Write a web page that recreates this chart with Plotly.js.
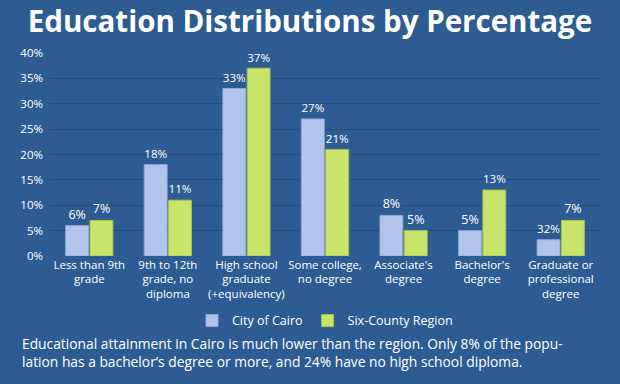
<!DOCTYPE html>
<html><head><meta charset="utf-8">
<script src="https://cdn.plot.ly/plotly-3.0.1.min.js"></script>
<style>html,body{margin:0;padding:0;background:#2d5c93;}</style>
</head><body><div id="chart" style="width:620px;height:384px;"></div>
<script>
const categories = ["Less than 9th<br>grade","9th to 12th<br>grade, no<br>diploma","High school<br>graduate<br>(+equivalency)","Some college,<br>no degree","Associate's<br>degree","Bachelor's<br>degree","Graduate or<br>professional<br>degree"];
const cairoValues = [6, 18, 33, 27, 8, 5, 3.2];
const cairoLabels = ["6%","18%","33%","27%","8%","5%","32%"];
const regionValues = [7, 11, 37, 21, 5, 13, 7];
const regionLabels = ["7%","11%","37%","21%","5%","13%","7%"];
const yTicks = [0,5,10,15,20,25,30,35,40];
const yTickText = ["0%","5%","10%","15%","20%","25%","30%","35%","40%"];

const font = "Open Sans, Noto Sans, sans-serif";
const traces = [
  {type:"bar", name:"City of Cairo", x:categories, y:cairoValues, text:cairoLabels,
   textposition:"outside", cliponaxis:false, textfont:{color:"#ffffff", size:12.5, family:font},
   marker:{color:"#b3c4ea", line:{color:"#93a6d6", width:1}}},
  {type:"bar", name:"Six-County Region", x:categories, y:regionValues, text:regionLabels,
   textposition:"outside", cliponaxis:false, textfont:{color:"#ffffff", size:12.5, family:font},
   marker:{color:"#c9e46a", line:{color:"#a8c44a", width:1}}}
];
const layout = {
  width:620, height:384,
  paper_bgcolor:"#2d5c93", plot_bgcolor:"#2d5c93",
  margin:{l:50, r:20, t:53, b:128},
  title:{text:"<b>Education Distributions by Percentage</b>", x:0.5, xanchor:"center", y:0.943, yanchor:"middle",
         font:{family:"Open Sans, sans-serif", size:29.5, color:"#ffffff"}},
  barmode:"group", bargap:0.38, bargroupgap:0.06,
  showlegend:true,
  legend:{orientation:"h", x:0.5, xanchor:"center", y:-0.32, yanchor:"middle",
          font:{family:font, size:12.5, color:"#ffffff"}, itemwidth:30, traceorder:"normal"},
  xaxis:{tickfont:{family:font, size:11.5, color:"#ffffff"}, showline:false, ticks:"", automargin:false},
  yaxis:{range:[0,40], tickvals:yTicks, ticktext:yTickText, tickfont:{family:font, size:11.5, color:"#ffffff"},
         showgrid:true, gridcolor:"rgba(20,50,90,0.35)", gridwidth:1, zeroline:false, ticks:"", ticklabelstandoff:6, automargin:false},
  annotations:[{xref:"paper", yref:"paper", x:-0.055, y:-0.475, xanchor:"left", yanchor:"middle", align:"left", showarrow:false,
    text:"Educational attainment in Cairo is much lower than the region. Only 8% of the popu-<br>lation has a bachelor’s degree or more, and 24% have no high school diploma.",
    font:{family:font, size:13.8, color:"#ffffff"}}]
};
Plotly.newPlot("chart", traces, layout, {displayModeBar:false, staticPlot:true});
</script></body></html>
